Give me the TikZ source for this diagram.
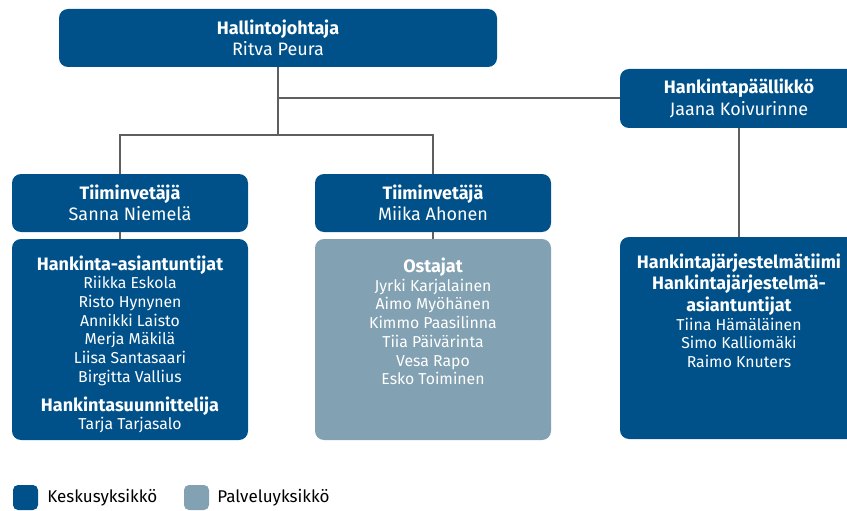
\documentclass[tikz,border=0pt]{standalone}
\usepackage{fontspec}
\setmainfont{Fira Sans}
\usetikzlibrary{positioning}
\definecolor{keskus}{RGB}{0,81,138}
\definecolor{palvelu}{RGB}{130,161,178}
\definecolor{viiva}{RGB}{95,95,95}
\tikzset{every picture/.style={x=1pt,y=-1pt},
  unit/.style={rectangle, rounded corners=9pt, fill=keskus, text=white, align=center, inner sep=0pt, minimum width=236pt, minimum height=58pt, font=\fontsize{18}{21.5}\selectfont},
  service/.style={unit, fill=palvelu},
  names/.style={text=white, align=center, inner sep=0pt, font=\fontsize{15.8}{18.7}\selectfont},
  link/.style={draw=viiva, line width=2pt},
  key/.style={rectangle, rounded corners=5pt, minimum size=25pt, inner sep=0pt},
  keytext/.style={anchor=west, inner sep=0pt, font=\fontsize{17}{20}\selectfont}}
\newcommand{\hd}[1]{{\bfseries #1}}
\newcommand{\hdb}[1]{{\bfseries\fontsize{18}{21.5}\selectfont #1}}

\begin{document}
\begin{tikzpicture}
        \useasboundingbox (0, 0) rectangle (847, 511);

        \node[unit, minimum width=438pt] (top) at (278, 38) {\hd{Hallintojohtaja}\\ Ritva Peura};
        \node[unit, minimum width=238pt, minimum height=59pt] (chief) at (739, 98.5) {\hd{Hankintapäällikkö}\\ Jaana Koivurinne};
        \node[unit] (lead1) at (130, 203) {\hd{Tiiminvetäjä}\\ Sanna Niemelä};
        \node[unit] (lead2) at (433, 203) {\hd{Tiiminvetäjä}\\ Miika Ahonen};

        \node[unit, minimum height=201pt] (team1) at (130, 339.5) {};
        \node[service, minimum height=201pt] (team2) at (433, 339.5) {};
        \node[unit, minimum width=238pt, minimum height=202pt] (team3) at (739, 338) {};

        \node[names, below=16.5pt of team1.north] (team1txt) {\hdb{Hankinta-asiantuntijat}\\ Riikka Eskola\\ Risto Hynynen\\ Annikki Laisto\\ Merja Mäkilä\\ Liisa Santasaari\\ Birgitta Vallius\\[10pt] \hdb{Hankintasuunnittelija}\\ Tarja Tarjasalo};
        \node[names, below=19pt of team2.north] (team2txt) {\hdb{Ostajat}\\ Jyrki Karjalainen\\ Aimo Myöhänen\\ Kimmo Paasilinna\\ Tiia Päivärinta\\ Vesa Rapo\\ Esko Toiminen};
        \node[names, below=16.5pt of team3.north] (team3txt) {\hdb{Hankintajärjestelmätiimi}\\[3pt] \hdb{Hankintajärjestelmä-}\\[3pt] \hdb{asiantuntijat}\\ Tiina Hämäläinen\\ Simo Kalliomäki\\ Raimo Knuters};

        \coordinate (fork) at (278, 135);
        \draw[link] (top.south) |- (chief.west);
        \draw[link] (top.south) -- (fork);
        \draw[link] (fork) -| ([xshift=-10pt]lead1.north);
        \draw[link] (fork) -| (lead2.north);
        \draw[link] ([xshift=-10pt]lead1.south) -- ([xshift=-10pt]team1.north);
        \draw[link] (lead2.south) -- (team2.north);
        \draw[link] (chief.south) -- (team3.north);

        \node[key, fill=keskus] (key1) at (25.5, 497.5) {};
        \node[keytext, right=9pt of key1] (key1txt) {Keskusyksikkö};
        \node[key, fill=palvelu] (key2) at (196.5, 497.5) {};
        \node[keytext, right=8pt of key2] (key2txt) {Palveluyksikkö};
      \end{tikzpicture}
\end{document}
